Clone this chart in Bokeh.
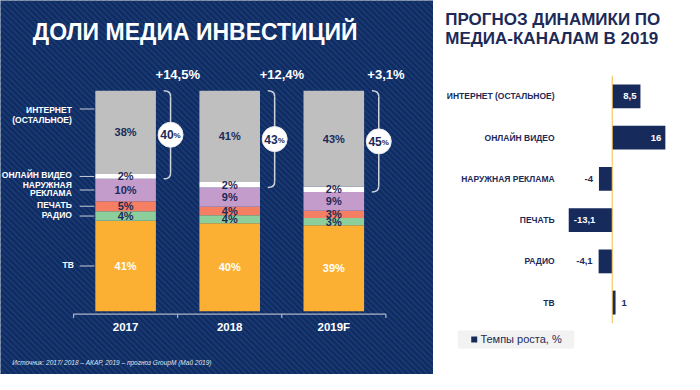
from bokeh.plotting import figure
from bokeh.layouts import row
from bokeh.models import Range1d, ColumnDataSource
from bokeh.embed import file_html
from bokeh.resources import INLINE
from bokeh.core.properties import value

# ---------------- data ----------------
years = ["2017", "2018", "2019F"]
seg_keys = ["tv", "radio", "press", "outdoor", "video", "internet"]
seg_names = ["ТВ", "РАДИО", "ПЕЧАТЬ", "НАРУЖНАЯ\nРЕКЛАМА", "ОНЛАЙН ВИДЕО", "ИНТЕРНЕТ\n(ОСТАЛЬНОЕ)"]
tv = [41.0, 39.9, 39.0]
radio = [4.3, 3.6, 3.3]
press = [4.6, 3.9, 3.2]
outdoor = [10.1, 8.7, 8.5]
video = [2.2, 2.5, 2.5]
internet = [37.8, 41.4, 43.5]
tv_lbl = ["41%", "40%", "39%"]
radio_lbl = ["4%", "4%", "3%"]
press_lbl = ["5%", "4%", "3%"]
outdoor_lbl = ["10%", "9%", "9%"]
video_lbl = ["2%", "2%", "2%"]
internet_lbl = ["38%", "41%", "43%"]
digital_share = ["40", "43", "45"]
market_growth = ["+14,5%", "+12,4%", "+3,1%"]

channels = ["ИНТЕРНЕТ (ОСТАЛЬНОЕ)", "ОНЛАЙН ВИДЕО", "НАРУЖНАЯ РЕКЛАМА", "ПЕЧАТЬ", "РАДИО", "ТВ"]
growth_2019 = [8.5, 16, -4, -13.1, -4.1, 1]
legend_label = "Темпы роста, %"

title_left = "ДОЛИ МЕДИА ИНВЕСТИЦИЙ"
title_right = ["ПРОГНОЗ ДИНАМИКИ ПО", "МЕДИА-КАНАЛАМ В 2019"]
source_note = "Источник: 2017/ 2018 – АКАР,  2019 – прогноз GroupM  (Май 2019)"

# ---------------- styles ----------------
FONT = value("Liberation Sans")
NAVY_BG = "#0f2c62"
NAVY_TXT = "#1d2a58"
BAR_NAVY = "#172a5c"
seg_colors = ["#fbb034", "#8dcf9c", "#f47f62", "#c49ccc", "#ffffff", "#bfbfbf"]
seg_lbls = [tv_lbl, radio_lbl, press_lbl, outdoor_lbl, video_lbl, internet_lbl]
seg_vals = [tv, radio, press, outdoor, video, internet]

W1, W2, H = 433, 251, 374


def lx(px):
    return (px - 128) / 106.5


def ly(py):
    return (324 - py) / 2.3


p1 = figure(width=W1, height=H, x_range=Range1d(lx(0), lx(443)),
            y_range=Range1d(ly(390), ly(0)), output_backend="svg",
            toolbar_location=None, min_border=0)
p1.axis.visible = False
p1.grid.visible = False
p1.outline_line_color = None
p1.background_fill_color = NAVY_BG
p1.border_fill_color = NAVY_BG

# striped background texture (diagonal lines, decorative)
stripe_x, stripe_y = [], []
step = 6
for k in range(-80, 80):
    x0 = k * step
    stripe_x.append([lx(x0), lx(x0 + 400)])
    stripe_y.append([ly(0), ly(400)])
p1.multi_line(xs=stripe_x, ys=stripe_y, line_color="#24467f", line_alpha=0.55, line_width=2)

xs = list(range(len(years)))
BW = 0.582
src = ColumnDataSource(dict(x=xs, **{k: v for k, v in zip(seg_keys, seg_vals)}))
p1.vbar_stack(seg_keys, x="x", width=BW, color=seg_colors, line_color=None, source=src)

# segment labels
lab_x, lab_y, lab_t, lab_c = [], [], [], []
for i in xs:
    base = 0.0
    for j, vals in enumerate(seg_vals):
        lab_x.append(i)
        lab_y.append(base + vals[i] / 2)
        lab_t.append(seg_lbls[j][i])
        lab_c.append("#ffffff" if j == 0 else NAVY_TXT)
        base += vals[i]
p1.text(x=lab_x, y=lab_y, text=lab_t, text_color=lab_c, text_font=FONT,
        text_font_style="bold", text_font_size="11px", text_align="center",
        text_baseline="middle")

# category labels on the left of the first bar, with connectors
base = 0.0
for j, vals in enumerate(seg_vals):
    frac = 0.78 if j == 5 else 0.5
    yy = base + vals[0] * frac
    base += vals[0]
    p1.segment(x0=[lx(81)], y0=[yy], x1=[lx(96)], y1=[yy], line_color="#c9ced8", line_width=1)
    lh = 1.0 if j == 5 else 0.75
    yoff = 6 if j == 5 else (-1 if j == 4 else -1)
    p1.text(x=[lx(73) if j else lx(75)], y=[yy], text=[seg_names[j]], text_color="#ffffff",
            text_font=FONT, text_font_style="bold", text_font_size="8.5px",
            text_align="right", text_baseline="middle", text_line_height=lh, y_offset=yoff)

# brackets + digital share circles + market growth labels
for i in xs:
    right = i + BW / 2
    top = sum(v[i] for v in seg_vals)
    bottom = top - internet[i] - video[i]
    tip = right + 8 / 106.5
    vert = right + 15 / 106.5
    c = 2.6
    p1.quadratic(x0=[tip], y0=[top], x1=[vert], y1=[top - c], cx=[vert], cy=[top],
                 line_color="#cfd3dc", line_width=1.5)
    p1.segment(x0=[vert], y0=[top - c], x1=[vert], y1=[bottom + c],
               line_color="#cfd3dc", line_width=1.5)
    p1.quadratic(x0=[vert], y0=[bottom + c], x1=[tip], y1=[bottom], cx=[vert], cy=[bottom],
                 line_color="#cfd3dc", line_width=1.5)
    mid = (top + bottom) / 2
    p1.scatter(x=[vert], y=[mid], size=25, marker="circle", fill_color="#ffffff",
               line_color="#e6e8ee", line_width=1)
    p1.text(x=[vert], y=[mid], text=[digital_share[i]], text_color=NAVY_TXT, text_font=FONT,
            text_font_style="bold", text_font_size="12px", text_align="right",
            text_baseline="middle", x_offset=3)
    p1.text(x=[vert], y=[mid], text=["%"], text_color=NAVY_TXT, text_font=FONT,
            text_font_style="bold", text_font_size="8px", text_align="left",
            text_baseline="middle", x_offset=3, y_offset=1)
    p1.text(x=[right + 0.21], y=[ly(77)], text=[market_growth[i]], text_color="#ffffff",
            text_font=FONT, text_font_style="bold", text_font_size="13px",
            text_align="center", text_baseline="middle")

# category axis
ay = ly(327)
p1.segment(x0=[-0.5], y0=[ay], x1=[len(years) - 0.5], y1=[ay], line_color="#aeb6c8", line_width=1.2)
p1.segment(x0=[i - 0.5 for i in range(len(years) + 1)], y0=[ay] * (len(years) + 1),
           x1=[i - 0.5 for i in range(len(years) + 1)], y1=[ly(331)] * (len(years) + 1),
           line_color="#aeb6c8", line_width=1.2)
p1.text(x=xs, y=[ly(340)] * len(xs), text=years, text_color="#ffffff", text_font=FONT,
        text_font_style="bold", text_font_size="11.5px", text_align="center",
        text_baseline="middle")

# titles and notes
p1.text(x=[lx(33)], y=[ly(33)], text=[title_left], text_color="#ffffff", text_font=FONT,
        text_font_style="bold", text_font_size="23px", text_align="left",
        text_baseline="middle")
p1.text(x=[lx(12)], y=[ly(378)], text=[source_note], text_color="#dfe4ee", text_font=FONT,
        text_font_style="italic", text_font_size="6.5px", text_align="left",
        text_baseline="middle")

# ---------------- right panel ----------------


def rx(px):
    return (px - 626) / 3.4


def ry(py):
    return (py - 100) / 43


p2 = figure(width=W2, height=H, x_range=Range1d(rx(443), rx(700)),
            y_range=Range1d(ry(390), ry(0)), output_backend="svg",
            toolbar_location=None, min_border=0)
p2.axis.visible = False
p2.grid.visible = False
p2.outline_line_color = None
p2.background_fill_color = "#ffffff"
p2.border_fill_color = "#ffffff"

ys = list(range(len(channels)))
p2.hbar(y=ys, left=0, right=growth_2019, height=0.58, fill_color=BAR_NAVY, line_color=None)
p2.segment(x0=[0], y0=[-0.5], x1=[0], y1=[len(channels) - 0.5], line_color="#f3c04a", line_width=1)

p2.text(x=[rx(567)] * len(ys), y=ys, text=channels, text_color=NAVY_TXT, text_font=FONT,
        text_font_style="bold", text_font_size="8.5px", text_align="right",
        text_baseline="middle")

vx, vy, vt, vc, va, vo = [], [], [], [], [], []
for k, v in enumerate(growth_2019):
    inside = abs(v) > 5
    vx.append(v)
    vy.append(k)
    vt.append(f"{v:g}".replace(".", ","))
    vc.append("#ffffff" if inside else NAVY_TXT)
    if v >= 0:
        va.append("right" if inside else "left")
        vo.append(-4 if inside else 6)
    else:
        va.append("left" if inside else "right")
        vo.append(5 if inside else -6)
p2.text(x=vx, y=vy, text=vt, text_color=vc, text_align=va, x_offset=vo, text_font=FONT,
        text_font_style="bold", text_font_size="9.5px", text_baseline="middle")

for n, line in enumerate(title_right):
    p2.text(x=[rx(455)], y=[ry(20 + 20 * n)], text=[line], text_color=NAVY_TXT, text_font=FONT,
            text_font_style="bold", text_font_size="17px", text_align="left",
            text_baseline="middle")

# legend box
p2.quad(left=[rx(468)], right=[rx(587)], top=[ry(344)], bottom=[ry(363)],
        fill_color="#f2f2f2", line_color=None)
p2.scatter(x=[rx(484.7)], y=[ry(353.5)], marker="square", size=6, fill_color=BAR_NAVY,
           line_color=None)
p2.text(x=[rx(491)], y=[ry(353.5)], text=[legend_label], text_color=NAVY_TXT, text_font=FONT,
        text_font_size="11px", text_align="left", text_baseline="middle")

layout = row(p1, p2, spacing=0)
open("out.html", "w").write(file_html(layout, INLINE))
